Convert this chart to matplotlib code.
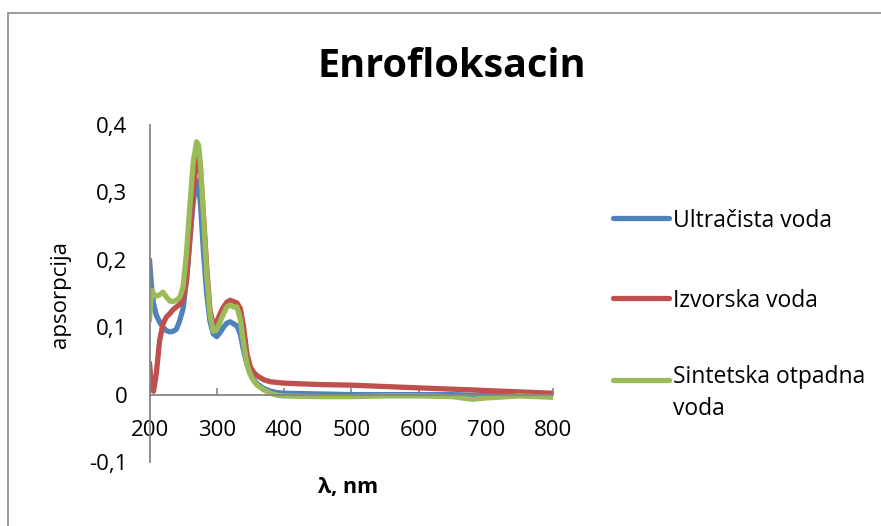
import matplotlib
matplotlib.use("Agg")
import matplotlib.pyplot as plt
from matplotlib.lines import Line2D
from matplotlib.patches import Rectangle
from matplotlib.ticker import FuncFormatter

plt.rcParams['font.family'] = ['Open Sans', 'DejaVu Sans']

title = "Enrofloksacin"
x_label = "λ, nm"
y_label = "apsorpcija"
series_names = ["Ultračista voda", "Izvorska voda", "Sintetska otpadna\nvoda"]
colors = ["#4F81BD", "#C0504D", "#9BBB59"]

wavelength = [200, 203, 206, 210, 215, 220, 225, 230, 235, 240, 245, 250, 255, 260, 265,
              270, 273, 276, 280, 285, 290, 295, 300, 305, 310, 315, 320, 325, 330, 335,
              340, 345, 350, 355, 360, 370, 380, 390, 400, 450, 500, 550, 600, 650, 680,
              700, 750, 800]

ultracista = [0.200, 0.160, 0.135, 0.118, 0.108, 0.100, 0.095, 0.093, 0.094, 0.097, 0.110, 0.128, 0.170, 0.230, 0.285,
              0.318, 0.312, 0.280, 0.215, 0.150, 0.108, 0.090, 0.086, 0.092, 0.100, 0.106, 0.108, 0.105, 0.102, 0.090,
              0.065, 0.045, 0.030, 0.022, 0.016, 0.009, 0.005, 0.003, 0.002, 0.001, 0.000, 0.000, 0.000, 0.000, -0.001,
              0.000, 0.000, -0.001]

izvorska = [0.047, 0.012, 0.005, 0.030, 0.080, 0.105, 0.115, 0.120, 0.126, 0.130, 0.134, 0.140, 0.170, 0.230, 0.300,
            0.350, 0.355, 0.330, 0.270, 0.190, 0.125, 0.103, 0.108, 0.120, 0.130, 0.137, 0.140, 0.138, 0.136, 0.128,
            0.100, 0.060, 0.041, 0.033, 0.028, 0.022, 0.019, 0.018, 0.017, 0.015, 0.014, 0.012, 0.010, 0.008, 0.007,
            0.006, 0.004, 0.002]

sintetska = [0.110, 0.155, 0.150, 0.146, 0.148, 0.152, 0.145, 0.139, 0.138, 0.140, 0.144, 0.160, 0.210, 0.280, 0.345,
             0.375, 0.370, 0.340, 0.270, 0.180, 0.118, 0.094, 0.097, 0.108, 0.120, 0.130, 0.133, 0.130, 0.130, 0.112,
             0.075, 0.045, 0.030, 0.020, 0.014, 0.007, 0.002, -0.001, -0.002, -0.003, -0.003, -0.002, -0.002, -0.003, -0.007,
             -0.005, -0.002, -0.004]

series = [ultracista, izvorska, sintetska]

x_ticks = [200, 300, 400, 500, 600, 700, 800]
y_ticks = [-0.1, 0, 0.1, 0.2, 0.3, 0.4]

W, H = 881, 526
fig = plt.figure(figsize=(W / 100, H / 100), dpi=100)

# outer chart border
fig.add_artist(Rectangle((8 / W, -0.1), 1.2, (H - 13) / H + 0.1, transform=fig.transFigure,
                         fill=False, edgecolor="#898989", linewidth=1.2))

ax = fig.add_axes([149.5 / W, 1 - 462 / H, (553 - 149.5) / W, (462 - 125) / H])
for vals, c, name in zip(series, colors, series_names):
    ax.plot(wavelength, vals, color=c, linewidth=3.8, solid_capstyle='round',
            solid_joinstyle='round', label=name)

ax.set_xlim(200, 800)
ax.set_ylim(-0.1, 0.4)
ax.spines['top'].set_visible(False)
ax.spines['right'].set_visible(False)
ax.spines['bottom'].set_position(('data', 0))
for s in ('left', 'bottom'):
    ax.spines[s].set_color("#868686")
    ax.spines[s].set_linewidth(1.3)
ax.set_xticks(x_ticks)
ax.set_yticks(y_ticks)
ax.yaxis.set_major_formatter(FuncFormatter(lambda v, p: ("%g" % round(v, 1)).replace('.', ',')))
ax.tick_params(axis='x', direction='in', length=5, width=1.2, color="#868686",
               labelsize=16, pad=18)
ax.tick_params(axis='y', length=0, labelsize=16, pad=16)

fig.text(451.5 / W, 1 - 77 / H, title, ha='center', va='baseline', fontsize=28.5, fontweight='bold')
fig.text(60 / W, 1 - 294 / H, y_label, rotation=90, ha='center', va='center', fontsize=16)
fig.text(348 / W, 1 - 488 / H, x_label, ha='center', va='center', fontsize=15.5, fontweight='bold')

# legend
leg_y = [218, 298, 380]
for yy, c, name in zip(leg_y, colors, series_names):
    fig.add_artist(Line2D([613 / W, 669 / W], [1 - yy / H, 1 - yy / H], transform=fig.transFigure,
                          color=c, linewidth=3.8, solid_capstyle='round'))
    if '\n' in name:
        fig.text(673 / W, 1 - (yy - 15) / H, name, ha='left', va='top',
                 fontsize=16.5, linespacing=1.45)
    else:
        fig.text(673 / W, 1 - yy / H, name, ha='left', va='center_baseline', fontsize=16.5)

fig.savefig("out.png", dpi=100)
